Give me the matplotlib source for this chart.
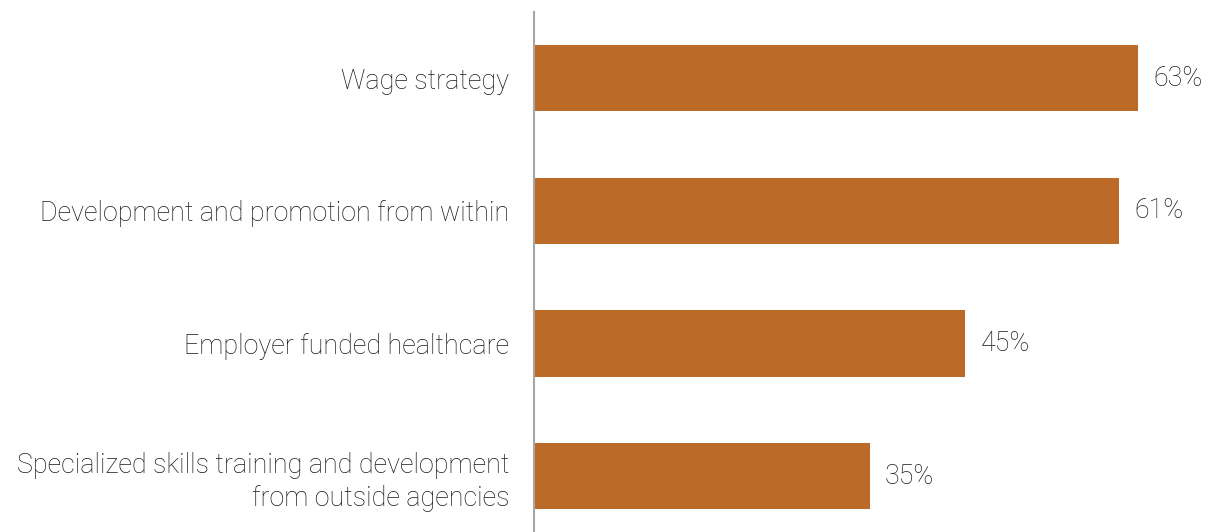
import matplotlib.pyplot as plt

categories = [
    "Wage strategy",
    "Development and promotion from within",
    "Employer funded healthcare",
    "Specialized skills training and development\nfrom outside agencies",
]
values = [63, 61, 45, 35]

plt.rcParams['font.family'] = ['Roboto', 'DejaVu Sans']
plt.rcParams['font.weight'] = 'light'

fig = plt.figure(figsize=(12.11, 5.32), dpi=100)
ax = fig.add_axes([534 / 1211, 0, 671 / 1211, 1 - 12 / 532])

pos = range(len(categories))
bars = ax.barh(pos, values, height=0.5, color='#BB6A28')
ax.set_xlim(0, 70)
ax.set_ylim(3.42, -0.5)

for b, v in zip(bars, values):
    ax.text(b.get_width() + 1.6, b.get_y() + b.get_height() / 2, f"{v}%",
            va='center', ha='left', fontsize=19.3, color='#1a1a1a', fontweight='light')

ax.set_yticks(list(pos))
ax.set_yticklabels(categories, fontsize=19.4, color='#1a1a1a', fontweight='light',
                   linespacing=1.25)
ax.tick_params(axis='y', length=0, pad=18)
ax.set_xticks([])
for s in ['top', 'right', 'bottom']:
    ax.spines[s].set_visible(False)
ax.spines['left'].set_color('#A6A6A6')
ax.spines['left'].set_linewidth(1.5)

fig.savefig('out.png', dpi=100)
